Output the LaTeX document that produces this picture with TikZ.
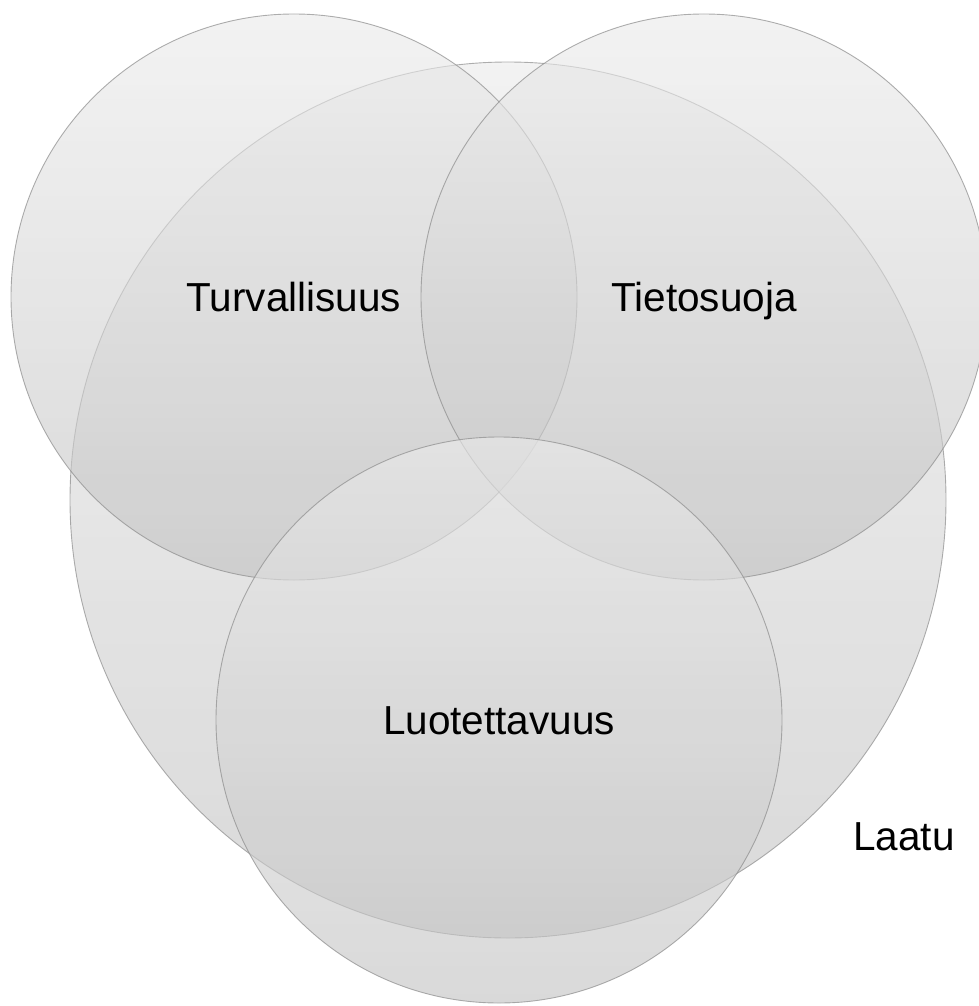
\documentclass[tikz,border=0pt]{standalone}
\usepackage{fontspec}
\setmainfont{Liberation Sans}
\definecolor{vtop}{gray}{0.92}
\definecolor{vbot}{gray}{0.76}
\definecolor{vedge}{gray}{0.55}
\begin{document}
\begin{tikzpicture}[x=1pt,y=-1pt,
  venn/.style={circle, inner sep=0pt, outer sep=0pt,
    top color=vtop, bottom color=vbot, fill opacity=0.62,
    draw=vedge, draw opacity=0.7, line width=0.9pt, text opacity=1,
    text height=29pt, text depth=0pt,
    font=\fontsize{40.5}{48}\selectfont},
  lbl/.style={inner sep=0pt, text height=29pt, text depth=0pt,
    font=\fontsize{40.5}{48}\selectfont}]
\useasboundingbox (0,0) rectangle (979,1006);
% outer set
\node[venn, minimum size=876pt] (laatu) at (508,500) {};
% three inner sets
\node[venn, minimum size=566pt] (turv) at (294,297) {Turvallisuus};
\node[venn, minimum size=566pt] (tieto) at (704,297) {Tietosuoja};
\node[venn, minimum size=566pt] (luot) at (499,720) {Luotettavuus};
% label of the outer set
\node[lbl] (laatulbl) at (904,836) {Laatu};
\end{tikzpicture}
\end{document}
